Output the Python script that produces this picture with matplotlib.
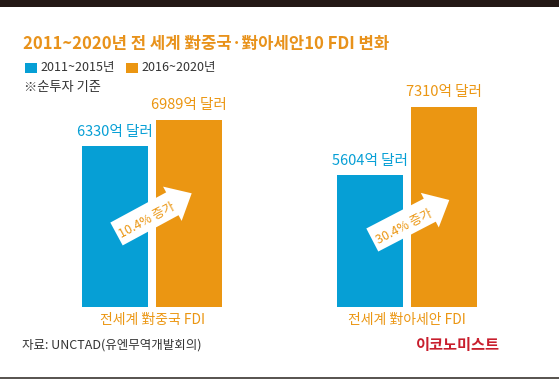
import matplotlib
matplotlib.use("Agg")
import matplotlib.pyplot as plt
from matplotlib.patches import Rectangle, FancyArrow
import numpy as np

plt.rcParams['font.family'] = ['Noto Sans CJK KR', 'DejaVu Sans']

# ---- data ----
categories = ["전세계 對중국 FDI", "전세계 對아세안 FDI"]
series_names = ["2011~2015년", "2016~2020년"]
values_2011_2015 = [6330, 5604]
values_2016_2020 = [6989, 7310]
growth_labels = ["10.4% 증가", "30.4% 증가"]
title_text = "2011~2020년 전 세계 對중국·對아세안10 FDI 변화"
note_text = "※순투자 기준"
source_text = "자료: UNCTAD(유엔무역개발회의)"
brand_text = "이코노미스트"

BLUE = "#069FD5"
ORANGE = "#EB9612"
TITLE_OR = "#E8921B"
RED = "#C81E2D"

W, H = 559, 379
fig = plt.figure(figsize=(W / 100, H / 100), dpi=100)
fig.patch.set_facecolor("white")

def fy(py):
    return 1 - py / H

# ---- bar axes ----
y_base = 2300
px_per_unit = 0.0399
ax_bottom_px, ax_top_px = 307, 60
ax = fig.add_axes([0, fy(ax_bottom_px), 1, (ax_bottom_px - ax_top_px) / H])
ax.set_ylim(y_base, y_base + (ax_bottom_px - ax_top_px) / px_per_unit)
grp_left_px, grp_step_px = 152, 255.25
ax.set_xlim(-grp_left_px / grp_step_px, (W - grp_left_px) / grp_step_px)
ax.axis("off")

x = np.arange(len(categories))
off = 74 / grp_step_px / 2
bw = 66 / grp_step_px
ax.bar(x - off, np.array(values_2011_2015) - y_base, bw, bottom=y_base, color=BLUE)
ax.bar(x + off, np.array(values_2016_2020) - y_base, bw, bottom=y_base, color=ORANGE)

for xi, v in zip(x - off, values_2011_2015):
    ax.annotate(f"{v}억 달러", (xi, v), xytext=(0, 5.5), textcoords="offset points",
                ha="center", va="bottom", color=BLUE, fontsize=10.5, fontweight="medium")
for xi, v in zip(x + off, values_2016_2020):
    ax.annotate(f"{v}억 달러", (xi, v), xytext=(0, 5.5), textcoords="offset points",
                ha="center", va="bottom", color=ORANGE, fontsize=10.5, fontweight="medium")
for xi, c in zip(x, categories):
    ax.annotate(c, (xi, y_base), xytext=(0, -4), textcoords="offset points",
                ha="center", va="top", color=ORANGE, fontsize=10, fontweight="medium")

# ---- overlay in pixel coordinates ----
ov = fig.add_axes([0, 0, 1, 1], zorder=5)
ov.set_xlim(0, W)
ov.set_ylim(H, 0)
ov.axis("off")

# top dark band and bottom rule
ov.add_patch(Rectangle((0, 0), W, 7.3, color="#231815", lw=0))
ov.add_patch(Rectangle((0, 376.5), W, 2.5, color="#5A5652", lw=0))

# growth arrows
arrows = [((116.5, 234.0), (191.7, 193.3)), ((372.3, 240.0), (449.3, 200.0))]
for (tail, tip), lab in zip(arrows, growth_labels):
    dx, dy = tip[0] - tail[0], tip[1] - tail[1]
    L = np.hypot(dx, dy)
    ov.add_patch(FancyArrow(tail[0], tail[1], dx, dy, width=26, head_width=39,
                            head_length=22, length_includes_head=True,
                            color="white", lw=0))
    ux, uy = dx / L, dy / L
    cx, cy = tail[0] + ux * (L - 22) / 2, tail[1] + uy * (L - 22) / 2
    ang = np.degrees(np.arctan2(-dy, dx))
    ov.text(cx + 3, cy + 1.5, lab, rotation=ang, rotation_mode="anchor",
            ha="center", va="center", color=ORANGE, fontsize=9, fontweight="medium")

# title, legend, notes
ov.text(23, 43.5, title_text, ha="left", va="center", color=TITLE_OR,
        fontsize=12, fontweight="bold")
ov.add_patch(Rectangle((25, 63.3), 12.3, 9.4, color=BLUE, lw=0))
ov.text(40, 68, series_names[0], ha="left", va="center", color="#333333", fontsize=9)
ov.add_patch(Rectangle((125.7, 63.3), 12, 9.4, color=ORANGE, lw=0))
ov.text(141, 68, series_names[1], ha="left", va="center", color="#333333", fontsize=9)
ov.text(24, 88, note_text, ha="left", va="center", color="#333333", fontsize=9.5)

ov.text(22, 345, source_text, ha="left", va="center", color="#333333", fontsize=9)
ov.text(500, 345, brand_text, ha="right", va="center", color=RED, fontsize=11,
        fontweight="heavy")

fig.savefig("out.png", dpi=100, facecolor="white")
